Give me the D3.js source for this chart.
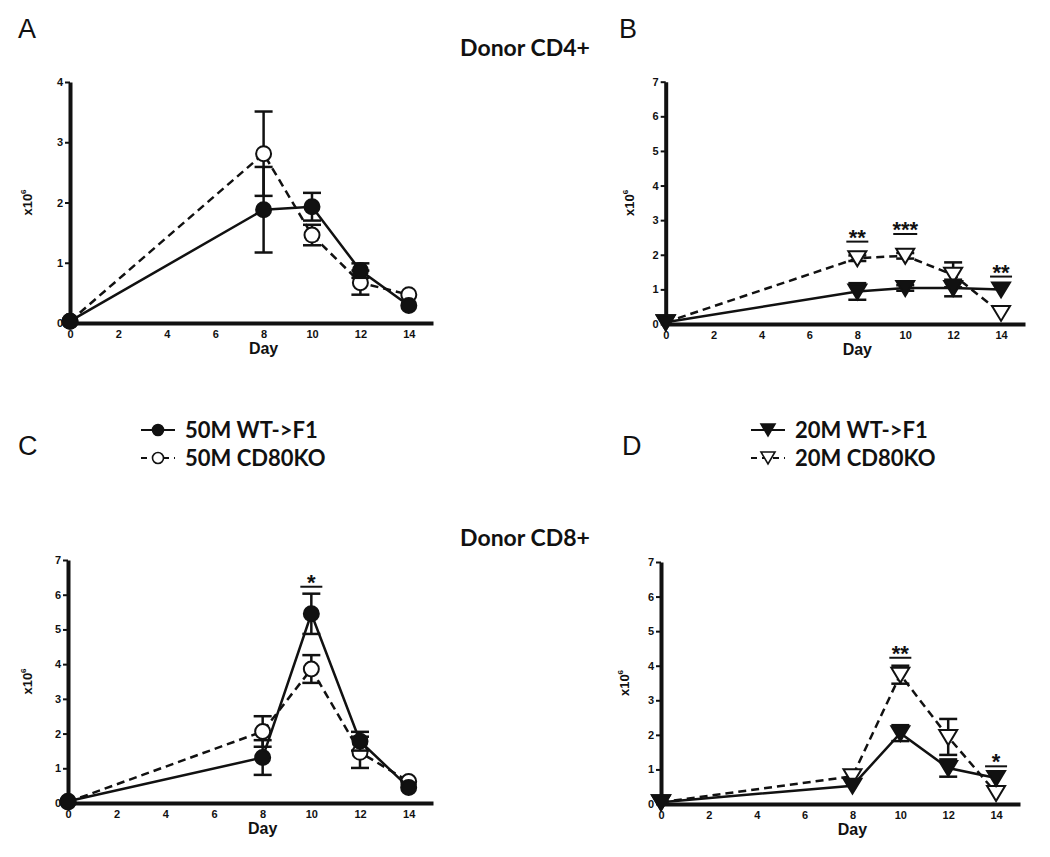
<!DOCTYPE html>
<html>
<head>
<meta charset="utf-8">
<script src="https://cdn.jsdelivr.net/npm/d3@7"></script>
<style>
  body { margin: 0; background: #fff; }
  svg { display: block; }
  .tick text { font-family: "Liberation Sans", Arial, sans-serif; font-weight: bold; font-size: 11px; fill: #111; }
</style>
</head>
<body>
<div id="chart"></div>
<script>
// days sampled, and tick labels
const days = [0, 8, 10, 12, 14];
const xTicks = [0, 2, 4, 6, 8, 10, 12, 14];

// Donor CD4+, 50M group (panel A)
const cd4WT50 = [0.03, 1.88, 1.93, 0.87, 0.29];
const cd4WT50Err = [0, 0.71, 0.23, 0.12, 0.05];
const cd4KO50 = [0.03, 2.81, 1.46, 0.67, 0.47];
const cd4KO50Err = [0, 0.70, 0.17, 0.20, 0.05];

// Donor CD4+, 20M group (panel B)
const cd4WT20 = [0.05, 0.94, 1.04, 1.04, 1.0];
const cd4WT20Err = [0, 0.24, 0.08, 0.24, 0.05];
const cd4KO20 = [0.05, 1.9, 1.97, 1.42, 0.32];
const cd4KO20Err = [0, 0.08, 0.08, 0.36, 0.05];

// Donor CD8+, 50M group (panel C)
const cd8WT50 = [0.05, 1.31, 5.45, 1.78, 0.45];
const cd8WT50Err = [0, 0.5, 0.58, 0.27, 0.05];
const cd8KO50 = [0.03, 2.06, 3.86, 1.46, 0.62];
const cd8KO50Err = [0, 0.44, 0.4, 0.45, 0.05];

// Donor CD8+, 20M group (panel D)
const cd8WT20 = [0.05, 0.53, 2.05, 1.04, 0.75];
const cd8WT20Err = [0, 0.05, 0.23, 0.25, 0.05];
const cd8KO20 = [0.05, 0.8, 3.74, 1.94, 0.32];
const cd8KO20Err = [0, 0.05, 0.26, 0.52, 0.05];

// significance marks: day, height of bar (x10^6), label
const sigB = [[8, 2.38, '**'], [10, 2.6, '***'], [14, 1.37, '**']];
const sigC = [[10, 6.23, '*']];
const sigD = [[10, 4.23, '**'], [14, 1.09, '*']];

const legend50 = ['50M WT->F1', '50M CD80KO'];
const legend20 = ['20M WT->F1', '20M CD80KO'];

const W = 1050, H = 857;
const svg = d3.select('#chart').append('svg').attr('width', W).attr('height', H);
svg.append('rect').attr('width', W).attr('height', H).attr('fill', '#fff');

const labelFont = '"Liberation Sans", Arial, sans-serif';
const titleFont = 'Lato, "Open Sans", sans-serif';

// marker shapes
const triDown = 'M-9,-7L9,-7L0,8Z';
function drawMarker(g, shape, filled, x, y) {
  if (shape === 'circle') {
    g.append('circle').attr('cx', x).attr('cy', y).attr('r', 7.5)
      .attr('fill', filled ? '#111' : '#fff').attr('stroke', '#111').attr('stroke-width', 2);
  } else {
    g.append('path').attr('d', triDown).attr('transform', `translate(${x},${y})`)
      .attr('fill', filled ? '#111' : '#fff').attr('stroke', '#111').attr('stroke-width', 2)
      .attr('stroke-linejoin', 'miter');
  }
}

function drawPanel(cfg) {
  const x = d3.scaleLinear().domain([0, 15]).range([cfg.left, cfg.right]);
  const y = d3.scaleLinear().domain([0, cfg.yMax]).range([cfg.bottom, cfg.top]);
  const g = svg.append('g');

  // axes
  const yAxis = d3.axisLeft(y).ticks(cfg.yMax).tickSize(5).tickSizeOuter(0).tickPadding(2)
    .tickFormat(d3.format('d'));
  const gy = g.append('g').attr('transform', `translate(${x(0)},0)`).call(yAxis);
  gy.select('.domain').attr('stroke-width', 4).attr('stroke', '#111');
  gy.selectAll('.tick line').attr('stroke-width', 2).attr('stroke', '#111');

  const xAxis = d3.axisBottom(x).tickValues(xTicks).tickSize(0).tickSizeOuter(0).tickPadding(7);
  const gx = g.append('g').attr('transform', `translate(0,${y(0)})`).call(xAxis);
  gx.select('.domain').attr('stroke-width', 4).attr('stroke', '#111');

  g.append('text').attr('x', x(8)).attr('y', y(0) + 31).attr('text-anchor', 'middle')
    .attr('font-family', labelFont).attr('font-weight', 'bold').attr('font-size', 16)
    .attr('fill', '#111').text('Day');

  const yl = g.append('text')
    .attr('transform', `translate(${x(0) + cfg.ylabOff},${(y(0) + y(cfg.yMax)) / 2}) rotate(-90)`)
    .attr('text-anchor', 'middle').attr('font-family', labelFont).attr('font-weight', 'bold')
    .attr('font-size', 13).attr('fill', '#111');
  yl.append('tspan').text('x10');
  yl.append('tspan').attr('dy', -6).attr('font-size', 8).text('6');

  const line = d3.line().x((d) => x(d[0])).y((d) => y(d[1]));

  // open (KO) series first, filled (WT) series on top, as in the figure
  cfg.series.slice().reverse().forEach((s) => {
    const pts = days.map((d, i) => [d, s.values[i], s.err[i]]);
    g.append('path').datum(pts).attr('d', line).attr('fill', 'none')
      .attr('stroke', '#111').attr('stroke-width', 2.5)
      .attr('stroke-dasharray', s.dashed ? '8,5' : null);
    // error bars
    pts.filter((p) => p[2] > 0.06).forEach((p) => {
      const cx = x(p[0]);
      g.append('line').attr('x1', cx).attr('x2', cx)
        .attr('y1', y(p[1] - p[2])).attr('y2', y(p[1] + p[2]))
        .attr('stroke', '#111').attr('stroke-width', 2.5);
      [p[1] - p[2], p[1] + p[2]].forEach((v) => {
        g.append('line').attr('x1', cx - 9).attr('x2', cx + 9)
          .attr('y1', y(v)).attr('y2', y(v)).attr('stroke', '#111').attr('stroke-width', 2.5);
      });
    });
    pts.forEach((p) => drawMarker(g, cfg.shape, !s.dashed, x(p[0]), y(p[1])));
  });

  (cfg.sig || []).forEach((s) => {
    const cx = x(s[0]);
    const half = s[2].length > 2 ? 12 : 11;
    g.append('line').attr('x1', cx - half).attr('x2', cx + half)
      .attr('y1', y(s[1])).attr('y2', y(s[1])).attr('stroke', '#111').attr('stroke-width', 2);
    g.append('text').attr('x', cx).attr('y', y(s[1]) + 3).attr('text-anchor', 'middle')
      .attr('font-family', labelFont).attr('font-weight', 'bold').attr('font-size', 22)
      .attr('fill', '#111').text(s[2]);
  });
}

drawPanel({
  left: 70, right: 433, top: 82, bottom: 323, yMax: 4, ylabOff: -38, shape: 'circle',
  series: [
    { values: cd4WT50, err: cd4WT50Err, dashed: false },
    { values: cd4KO50, err: cd4KO50Err, dashed: true }
  ]
});
drawPanel({
  left: 665.7, right: 1025, top: 81.7, bottom: 324, yMax: 7, ylabOff: -32, shape: 'tri',
  series: [
    { values: cd4WT20, err: cd4WT20Err, dashed: false },
    { values: cd4KO20, err: cd4KO20Err, dashed: true }
  ],
  sig: sigB
});
drawPanel({
  left: 68, right: 433, top: 560, bottom: 803, yMax: 7, ylabOff: -36, shape: 'circle',
  series: [
    { values: cd8WT50, err: cd8WT50Err, dashed: false },
    { values: cd8KO50, err: cd8KO50Err, dashed: true }
  ],
  sig: sigC
});
drawPanel({
  left: 661, right: 1020, top: 562, bottom: 804, yMax: 7, ylabOff: -32, shape: 'tri',
  series: [
    { values: cd8WT20, err: cd8WT20Err, dashed: false },
    { values: cd8KO20, err: cd8KO20Err, dashed: true }
  ],
  sig: sigD
});

// panel letters
[['A', 18, 38], ['B', 619, 38], ['C', 18, 455], ['D', 622, 455]].forEach((l) => {
  svg.append('text').attr('x', l[1]).attr('y', l[2]).attr('font-family', labelFont)
    .attr('font-size', 27).attr('fill', '#111').text(l[0]);
});

// titles
[['Donor CD4+', 56], ['Donor CD8+', 546]].forEach((t) => {
  svg.append('text').attr('x', 525).attr('y', t[1]).attr('text-anchor', 'middle')
    .attr('font-family', titleFont).attr('font-weight', 'bold').attr('font-size', 23)
    .attr('fill', '#111').text(t[0]);
});

// legends
function drawLegend(x0, labels, shape) {
  const rows = [430, 458];
  labels.forEach((lab, i) => {
    const g = svg.append('g');
    const cy = rows[i];
    g.append('line').attr('x1', x0).attr('x2', x0 + 34).attr('y1', cy).attr('y2', cy)
      .attr('stroke', '#111').attr('stroke-width', 2)
      .attr('stroke-dasharray', i === 1 ? '6,5' : null);
    if (shape === 'circle') {
      g.append('circle').attr('cx', x0 + 17).attr('cy', cy).attr('r', 5.5)
        .attr('fill', i === 0 ? '#111' : '#fff').attr('stroke', '#111').attr('stroke-width', 1.6);
    } else {
      g.append('path').attr('d', 'M-7,-6L7,-6L0,6Z').attr('transform', `translate(${x0 + 17},${cy})`)
        .attr('fill', i === 0 ? '#111' : '#fff').attr('stroke', '#111').attr('stroke-width', 1.6);
    }
    g.append('text').attr('x', x0 + 44).attr('y', cy + 8).attr('font-family', titleFont)
      .attr('font-weight', 'bold').attr('font-size', 22).attr('fill', '#111').text(lab);
  });
}
drawLegend(141, legend50, 'circle');
drawLegend(751, legend20, 'tri');
</script>
</body>
</html>
